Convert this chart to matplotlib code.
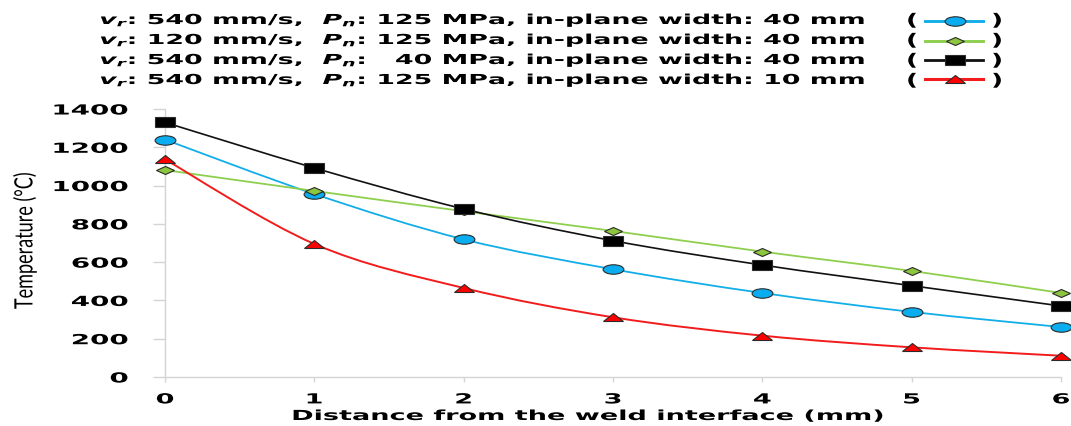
import numpy as np
import matplotlib
matplotlib.use("Agg")
import matplotlib.pyplot as plt
from matplotlib.path import Path
from matplotlib.patches import PathPatch
from matplotlib.markers import MarkerStyle
from matplotlib.transforms import Affine2D
from matplotlib.lines import Line2D
from matplotlib.patheffects import AbstractPathEffect

# ---- data ---------------------------------------------------------------
distance_mm = [0, 1, 2, 3, 4, 5, 6]
temp_vr540_pn125_w40 = [1240, 956, 719, 563, 439, 340, 261]
temp_vr120_pn125_w40 = [1081, 972, 866, 763, 655, 554, 439]
temp_vr540_pn40_w40 = [1330, 1092, 878, 712, 585, 477, 371]
temp_vr540_pn125_w10 = [1137, 695, 465, 312, 216, 155, 111]

series_labels = [
    r"$v_r$: 540 mm/s,  $P_n$: 125 MPa, in-plane width: 40 mm",
    r"$v_r$: 120 mm/s,  $P_n$: 125 MPa, in-plane width: 40 mm",
    r"$v_r$: 540 mm/s,  $P_n$:   40 MPa, in-plane width: 40 mm",
    r"$v_r$: 540 mm/s,  $P_n$: 125 MPa, in-plane width: 10 mm",
]
y_ticks = [0, 200, 400, 600, 800, 1000, 1200, 1400]
x_ticks = [0, 1, 2, 3, 4, 5, 6]
x_label = "Distance from the weld interface (mm)"
y_label = "Temperature (°C)"

plt.rcParams["mathtext.fontset"] = "custom"
plt.rcParams["mathtext.it"] = "DejaVu Sans:italic:bold"
plt.rcParams["mathtext.rm"] = "DejaVu Sans:bold"
plt.rcParams["mathtext.bf"] = "DejaVu Sans:bold"


class Widen(AbstractPathEffect):
    """Stretch glyph outlines horizontally about a chosen anchor."""

    def __init__(self, sx, anchor="center"):
        super().__init__()
        self.sx = sx
        self.anchor = anchor

    def draw_path(self, renderer, gc, tpath, affine, rgbFace=None):
        ext = tpath.get_extents(affine)
        if self.anchor == "left":
            x0 = ext.x0
        elif self.anchor == "right":
            x0 = ext.x1
        else:
            x0 = 0.5 * (ext.x0 + ext.x1)
        t = affine + Affine2D().translate(-x0, 0).scale(self.sx, 1).translate(x0, 0)
        renderer.draw_path(gc, tpath, t, rgbFace)


def smooth_path(x, y):
    """Cubic Bezier path through the points (Catmull-Rom style smoothing)."""
    pts = np.column_stack([x, y]).astype(float)
    n = len(pts)
    verts = [tuple(pts[0])]
    codes = [Path.MOVETO]
    for i in range(n - 1):
        p0 = pts[max(i - 1, 0)]
        p1 = pts[i]
        p2 = pts[i + 1]
        p3 = pts[min(i + 2, n - 1)]
        c1 = p1 + (p2 - p0) / 6.0
        c2 = p2 - (p3 - p1) / 6.0
        verts += [tuple(c1), tuple(c2), tuple(p2)]
        codes += [Path.CURVE4] * 3
    return Path(verts, codes)


W, H = 1071, 427
fig = plt.figure(figsize=(W / 100, H / 100), dpi=100)
ax = fig.add_axes([165 / W, 1 - 378 / H, 896 / W, 268 / H])

edge = "#2b2b2b"
styles = [
    dict(y=temp_vr540_pn125_w40, color="#12aee8", face="#0aaef0",
         marker=MarkerStyle("o", transform=Affine2D().scale(2.2, 1)), ms=6.8, lw=1.3),
    dict(y=temp_vr120_pn125_w40, color="#8fcf4e", face="#8cc63e",
         marker=MarkerStyle("D", transform=Affine2D().scale(2.25, 1)), ms=4.2, lw=1.3),
    dict(y=temp_vr540_pn40_w40, color="#111111", face="#000000",
         marker=MarkerStyle("s", transform=Affine2D().scale(2.0, 1)), ms=7.0, lw=1.2),
    dict(y=temp_vr540_pn125_w10, color="#f21c1c", face="#ff0000",
         marker=MarkerStyle("^", transform=Affine2D().scale(2.4, 1)), ms=6.2, lw=1.4),
]
draw_order = [0, 2, 3, 1]

for k in draw_order:
    st = styles[k]
    ax.add_patch(PathPatch(smooth_path(distance_mm, st["y"]), fill=False,
                           edgecolor=st["color"], lw=st["lw"], zorder=2 + k * 0.1,
                           clip_on=False))
    ax.plot(distance_mm, st["y"], linestyle="none", marker=st["marker"],
            markersize=st["ms"], markerfacecolor=st["face"],
            markeredgecolor=edge, markeredgewidth=0.8, clip_on=False,
            zorder=3 + k * 0.1)

ax.set_xlim(0, 6)
ax.set_ylim(0, 1400)
ax.set_xticks(x_ticks)
ax.set_yticks(y_ticks)
ax.set_xticklabels([str(v) for v in x_ticks])
ax.set_yticklabels([str(v) for v in y_ticks])

for side in ("top", "right"):
    ax.spines[side].set_visible(False)
for side in ("left", "bottom"):
    ax.spines[side].set_color("#d4d4d4")
    ax.spines[side].set_linewidth(1.0)

ax.tick_params(axis="y", length=8.6, width=1, color="#d4d4d4", pad=18,
               labelsize=10, direction="out")
ax.tick_params(axis="x", length=3.6, width=1, color="#d4d4d4", pad=7.5,
               labelsize=10, direction="out")
for lab in ax.get_yticklabels():
    lab.set_fontweight("bold")
    lab.set_path_effects([Widen(2.0, "right")])
for lab in ax.get_xticklabels():
    lab.set_fontweight("bold")
    lab.set_path_effects([Widen(1.95, "center")])

ax.set_xlabel(x_label, fontsize=10, fontweight="bold",
              path_effects=[Widen(1.95, "center")])
ax.xaxis.set_label_coords((588 - 165) / 896, (378 - 410) / 268)

fig.text(25 / W, 1 - 242 / H, y_label, rotation=90, ha="center", va="center",
         fontsize=13, family="Lato", path_effects=[Widen(1.4, "center")])

# legend block above the plot
baselines = [25, 45, 65, 85]
sample_y = [22, 42, 61, 80]
for k, lab in enumerate(series_labels):
    st = styles[k]
    fig.text(100 / W, 1 - baselines[k] / H, lab, ha="left", va="baseline",
             fontsize=9.9, fontweight="bold", path_effects=[Widen(1.95, "left")])
    fig.text(912 / W, 1 - (baselines[k] + 1.5) / H, "(", ha="center", va="baseline",
             fontsize=12, fontweight="bold", path_effects=[Widen(1.6, "center")])
    fig.text(997 / W, 1 - (baselines[k] + 1.5) / H, ")", ha="center", va="baseline",
             fontsize=12, fontweight="bold", path_effects=[Widen(1.6, "center")])
    yy = 1 - sample_y[k] / H
    fig.add_artist(Line2D([925 / W, 983 / W], [yy, yy], transform=fig.transFigure,
                          color=st["color"], lw=st["lw"] + 0.8))
    fig.add_artist(Line2D([955 / W], [yy], transform=fig.transFigure,
                          linestyle="none", marker=st["marker"], markersize=st["ms"],
                          markerfacecolor=st["face"], markeredgecolor=edge,
                          markeredgewidth=0.8))

fig.savefig("out.png", dpi=100)
